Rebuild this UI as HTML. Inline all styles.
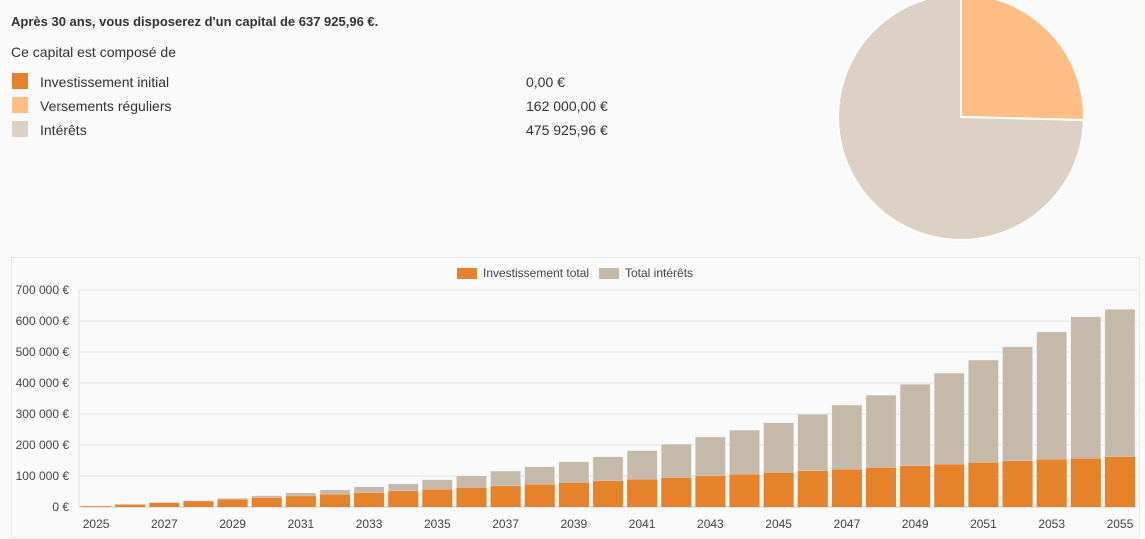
<!DOCTYPE html>
<html><head><meta charset="utf-8"><style>
body{margin:0;width:1145px;height:539px;background:#fafafa;font-family:"Liberation Sans",Arial,sans-serif;color:#333;overflow:hidden;position:relative}
.t{position:absolute;font-size:14px;white-space:nowrap}
.sw{position:absolute;width:16px;height:16px;left:12px}
</style></head><body>
<div class="t" style="left:11px;top:14px;font-weight:bold;font-size:13px">Après 30 ans, vous disposerez d'un capital de 637 925,96 €.</div>
<div class="t" style="left:11px;top:44px">Ce capital est composé de</div>
<div class="sw" style="top:73px;background:#e6832a"></div>
<div class="t" style="left:40px;top:74px">Investissement initial</div>
<div class="t" style="left:526px;top:74px">0,00 €</div>
<div class="sw" style="top:97px;background:#ffbf84"></div>
<div class="t" style="left:40px;top:98px">Versements réguliers</div>
<div class="t" style="left:526px;top:98px">162 000,00 €</div>
<div class="sw" style="top:121px;background:#ddd1c5"></div>
<div class="t" style="left:40px;top:122px">Intérêts</div>
<div class="t" style="left:526px;top:122px">475 925,96 €</div>

<svg id="pie" style="position:absolute;left:0;top:0" width="1145" height="250"></svg>

<div style="position:absolute;left:11px;top:257px;width:1127px;height:279px;border:1px solid #e8e8e8"></div>
<svg id="chart" style="position:absolute;left:0;top:0" width="1145" height="539" font-family="Liberation Sans, Arial, sans-serif"></svg>

<script>
const pieLabels=["Investissement initial","Versements réguliers","Intérêts"];
const pieValues=[0,162000,475925.96];
const pieColors=["#e6832a","#ffbf84","#ddd1c5"];

const years=[2025,2026,2027,2028,2029,2030,2031,2032,2033,2034,2035,2036,2037,2038,2039,2040,2041,2042,2043,2044,2045,2046,2047,2048,2049,2050,2051,2052,2053,2054,2055];
const invested=[2700,8100,13500,18900,24300,29700,35100,40500,45900,51300,56700,62100,67500,72900,78300,83700,89100,94500,99900,105300,110700,116100,121500,126900,132300,137700,143100,148500,153900,156600,162000];
const totals=[3000,8000,14000,20500,28000,36500,45500,55500,65500,75000,88000,101000,116000,130000,146000,162000,182000,203000,226000,248000,272000,299000,329000,361000,396000,432000,474000,517000,565000,614000,637926];
const yTicks=[0,100000,200000,300000,400000,500000,600000,700000];
const yTickLabels=["0 €","100 000 €","200 000 €","300 000 €","400 000 €","500 000 €","600 000 €","700 000 €"];

const NS="http://www.w3.org/2000/svg";
function mk(p,tag,at){const e=document.createElementNS(NS,tag);for(const k in at)e.setAttribute(k,at[k]);p.appendChild(e);return e;}

// pie
const pie=document.getElementById('pie');
const cx=961,cy=117,r=123;
const tot=pieValues.reduce((a,b)=>a+b,0);
let a0=0;
pieValues.forEach((v,i)=>{
  if(v<=0)return;
  const a1=a0+v/tot*Math.PI*2;
  const x0=cx+r*Math.sin(a0),y0=cy-r*Math.cos(a0),x1=cx+r*Math.sin(a1),y1=cy-r*Math.cos(a1);
  const p=mk(pie,'path',{d:`M${cx},${cy}L${x0},${y0}A${r},${r} 0 ${a1-a0>Math.PI?1:0} 1 ${x1},${y1}Z`,fill:pieColors[i],stroke:'#fff','stroke-width':2});
  
  
  a0=a1;
});

// bar chart
const svg=document.getElementById('chart');
const X0=79,X1=1137,Y0=507,Y1=290,YMAX=700000;
const band=(X1-X0)/years.length;
const yS=v=>Y0-(v/YMAX)*(Y0-Y1);
const xS=i=>X0+i*band;
yTicks.forEach((t,i)=>{
  const g=mk(svg,'line',{x1:X0,x2:X1,y1:yS(t),y2:yS(t),stroke:i==0?'#ccc':'#e2e2e2','stroke-width':1});
  
  
  const tx=mk(svg,'text',{x:69,y:yS(t)+4,'text-anchor':'end','font-size':12,fill:'#444'});
  tx.textContent=yTickLabels[i];
  
  
});
const ax=mk(svg,'line',{x1:X0,x2:X0,y1:Y1,y2:Y0,stroke:'#e2e2e2'});


years.forEach((yr,i)=>{
  const bx=xS(i)+2,bw=band-4;
  const b2=mk(svg,'rect',{x:bx,y:yS(totals[i]),width:bw,height:yS(invested[i])-yS(totals[i]),fill:'#c5b9aa',stroke:'#eee','stroke-width':0.5});
  
  
  const b1=mk(svg,'rect',{x:bx,y:yS(invested[i]),width:bw,height:Y0-yS(invested[i]),fill:'#e6832a'});
  
  
  if(i%2==0){
    const t=mk(svg,'text',{x:xS(i)+band/2,y:528,'text-anchor':'middle','font-size':12,fill:'#444'});
    t.textContent=yr;
    
    
  }
});
// legend
const l1=mk(svg,'rect',{x:457,y:268,width:20,height:11,fill:'#e6832a'});


const lt1=mk(svg,'text',{x:483,y:277,'font-size':12,fill:'#444'});lt1.textContent='Investissement total';


const l2=mk(svg,'rect',{x:599,y:268,width:20,height:11,fill:'#c5b9aa'});


const lt2=mk(svg,'text',{x:625,y:277,'font-size':12,fill:'#444'});lt2.textContent='Total intérêts';


</script>
</body></html>
